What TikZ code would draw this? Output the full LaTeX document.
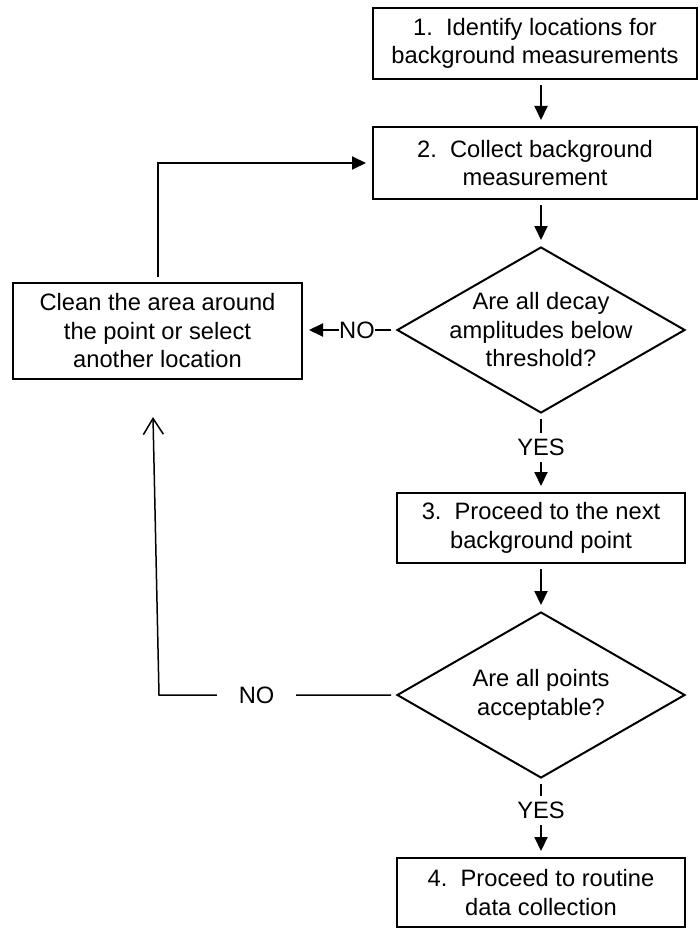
\documentclass[tikz,border=0pt]{standalone}
\usepackage{fontspec}
\setmainfont{Liberation Sans}
\usetikzlibrary{arrows.meta,shapes.geometric}
\newcommand\fz{\fontsize{23.7}{28.5}\selectfont\frenchspacing}
\tikzset{
  box/.style={draw, line width=2pt, rectangle, inner sep=0pt, align=center, font=\fz},
  dia/.style={draw, line width=2pt, diamond, inner sep=0pt},
  txt/.style={align=center, font=\fz, inner sep=0pt},
  arr/.style={line width=2pt, -{Triangle[width=13pt,length=14pt]}, shorten <=5pt, shorten >=6pt},
  ret/.style={line width=1.5pt, -{Straight Barb[width=20pt,length=16pt,line width=1.5pt]}, shorten <=5pt},
  lbl/.style={fill=white, font=\fz, inner ysep=6pt}
}
\begin{document}
\begin{tikzpicture}[x=1pt,y=-1pt]
\useasboundingbox (0,0) rectangle (699,928);
\node[box, minimum width=324pt, minimum height=71pt] (b1) at (535,43.5) {1.~~Identify locations for\\background measurements};
\node[box, minimum width=324pt, minimum height=72pt] (b2) at (535,163) {2.~~Collect background\\measurement};
\node[dia, minimum width=288pt, minimum height=166pt] (d1) at (541,330) {};
\node[txt] (d1t) at (d1.center) {Are all decay\\amplitudes below\\threshold?};
\node[box, minimum width=289pt, minimum height=96pt] (clean) at (157.5,331) {Clean the area around\\the point or select\\another location};
\node[box, minimum width=288pt, minimum height=70pt] (b3) at (541,528) {3.~~Proceed to the next\\background point};
\node[dia, minimum width=288pt, minimum height=166pt] (d2) at (541,695) {};
\node[txt] (d2t) at (d2.center) {Are all points\\acceptable?};
\node[box, minimum width=288pt, minimum height=69pt] (b4) at (541,892.5) {4.~~Proceed to routine\\data collection};
\coordinate (corner) at (159,695);
\coordinate (rettop) at (153,417);

\draw[arr] (b1.south -| d1) -- (b2.north -| d1);
\draw[arr] (b2.south -| d1) -- (d1.north);
\draw[arr] (d1.south) -- node[lbl, pos=0.425, inner xsep=2pt]{YES} (b3.north);
\draw[arr] (b3.south) -- (d2.north);
\draw[arr] (d2.south) -- node[lbl, pos=0.4, inner xsep=2pt]{YES} (b4.north);
\draw[arr] (d1.west) -- node[lbl, pos=0.42, inner xsep=0pt, inner ysep=3pt]{NO} (d1.west -| clean.east);
\draw[arr] (clean.north) |- (b2.west);
\draw[ret] (d2.west) -- node[lbl, pos=0.588, inner xsep=22pt]{NO} (corner) -- (rettop);
\end{tikzpicture}
\end{document}
